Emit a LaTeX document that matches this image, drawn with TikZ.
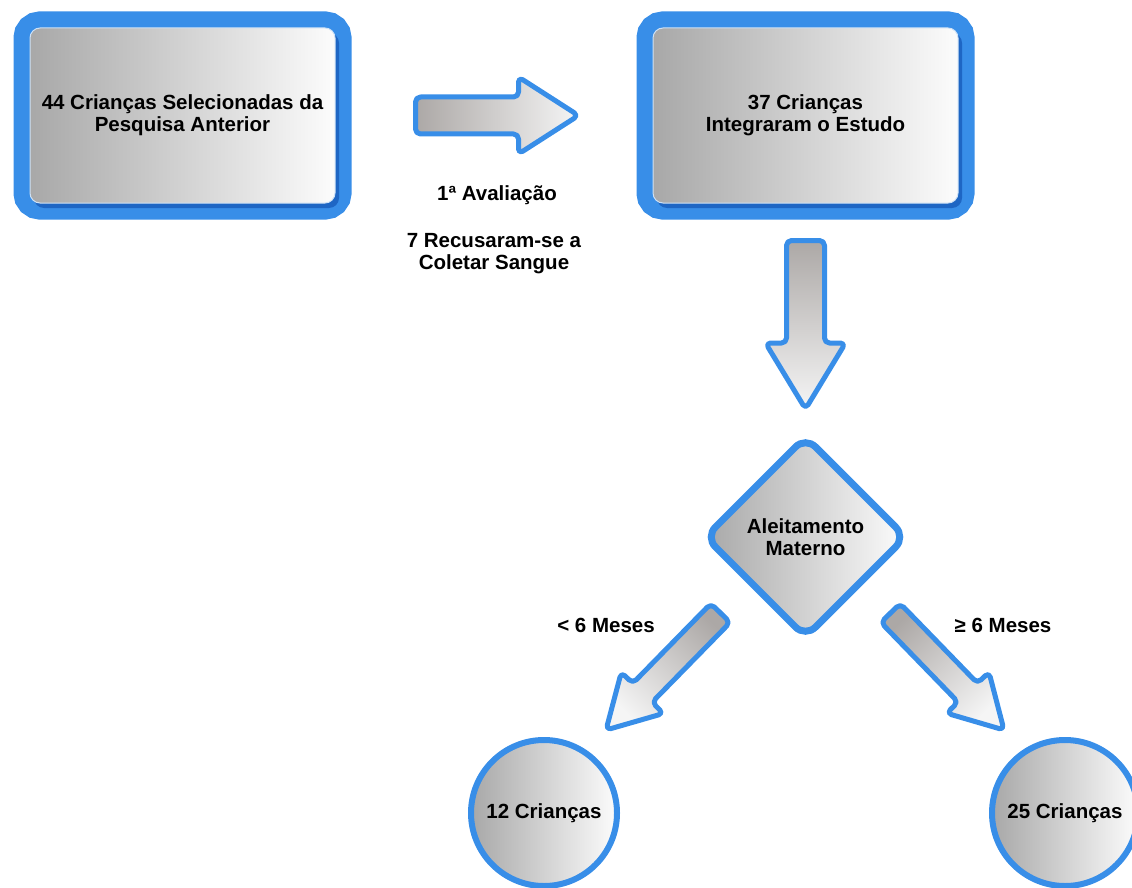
\documentclass[tikz,border=0pt]{standalone}
\usepackage{fontspec}
\setmainfont{Liberation Sans}
\usetikzlibrary{calc,shapes.geometric}
\definecolor{frameblue}{RGB}{56,142,232}
\definecolor{shadowblue}{RGB}{30,102,196}
\definecolor{edgeblue}{RGB}{205,225,246}
\definecolor{shadeA}{RGB}{168,168,168}
\definecolor{shadeB}{RGB}{252,252,252}
\definecolor{arrA}{RGB}{172,168,166}
\definecolor{arrB}{RGB}{245,245,245}
\newcommand\myblockarrow[6]{%
  \coordinate (baB) at ($#3!#6!#2$);
  \draw[#1] ($#2!#4!90:#3$) -- ($(baB)!#4!90:#3$) -- ($(baB)!#5!90:#3$) -- #3
    -- ($(baB)!#5!-90:#3$) -- ($(baB)!#4!-90:#3$) -- ($#2!#4!-90:#3$) -- cycle;
}
\tikzset{
  lbl/.style={font=\fontsize{20.5}{22}\selectfont\bfseries, align=center, inner sep=0pt},
  panel/.style={lbl, rectangle, minimum width=305pt, minimum height=175pt, rounded corners=10pt,
    preaction={draw=frameblue, line width=33pt},
    preaction={fill=shadowblue, transform canvas={shift={(4pt,-5pt)}}},
    left color=shadeA, right color=shadeB, draw=edgeblue, line width=1pt},
  circ/.style={lbl, circle, minimum size=146pt, draw=frameblue, line width=6pt,
    left color=shadeA, right color=shadeB},
  diabox/.style={lbl, diamond, aspect=1, minimum width=203pt, minimum height=203pt,
    rounded corners=14pt, draw=frameblue, line width=7pt,
    left color=shadeA, right color=shadeB},
  bigarrow/.style={draw=frameblue, line width=5pt, rounded corners=5pt, line join=round,
    left color=arrA, right color=arrB}
}
\begin{document}
\begin{tikzpicture}[x=1pt,y=-1pt]
\useasboundingbox (0,0) rectangle (1132,888);
% boxes
\node[panel] (b1) at (182.5,115.5) {44 Crianças Selecionadas da\\Pesquisa Anterior};
\node[panel] (b2) at (805.5,115.5) {37 Crianças\\Integraram o Estudo};
% decision
\node[diabox] (d) at (805.5,537) {Aleitamento\\Materno};
% results
\node[circ] (c1) at (544,813) {12 Crianças};
\node[circ] (c2) at (1065,813) {25 Crianças};
% arrow end points
\coordinate (a1t) at ($(b1.east)+(80,0)$);
\coordinate (a1p) at ($(b2.west)+(-74,0)$);
\coordinate (a2t) at ($(b2.south)+(0,37)$);
\coordinate (a2p) at ($(d.north)+(0,-23)$);
\coordinate (a3t) at ($(d.center)+(-85,76)$);
\coordinate (a3p) at ($(c1.center)+(62,-83)$);
\coordinate (a4t) at ($(d.center)+(85,76)$);
\coordinate (a4p) at ($(c2.center)+(-61,-83)$);
% block arrows
\myblockarrow{bigarrow, shading angle=90}{(a1t)}{(a1p)}{18.5pt}{38.5pt}{60pt}
\myblockarrow{bigarrow, shading angle=0}{(a2t)}{(a2p)}{19pt}{40pt}{66pt}
\myblockarrow{bigarrow, shading angle=315.7}{(a3t)}{(a3p)}{13.5pt}{29.5pt}{52pt}
\myblockarrow{bigarrow, shading angle=44.3}{(a4t)}{(a4p)}{13.5pt}{29.5pt}{52pt}
% labels
\node[lbl] (l1) at (497,195) {1ª Avaliação};
\node[lbl] (l2) at (494,254) {7 Recusaram-se a\\Coletar Sangue};
\node[lbl] (l3) at (606,625) {< 6 Meses};
\node[lbl] (l4) at (1003,625) {≥ 6 Meses};
\end{tikzpicture}
\end{document}
